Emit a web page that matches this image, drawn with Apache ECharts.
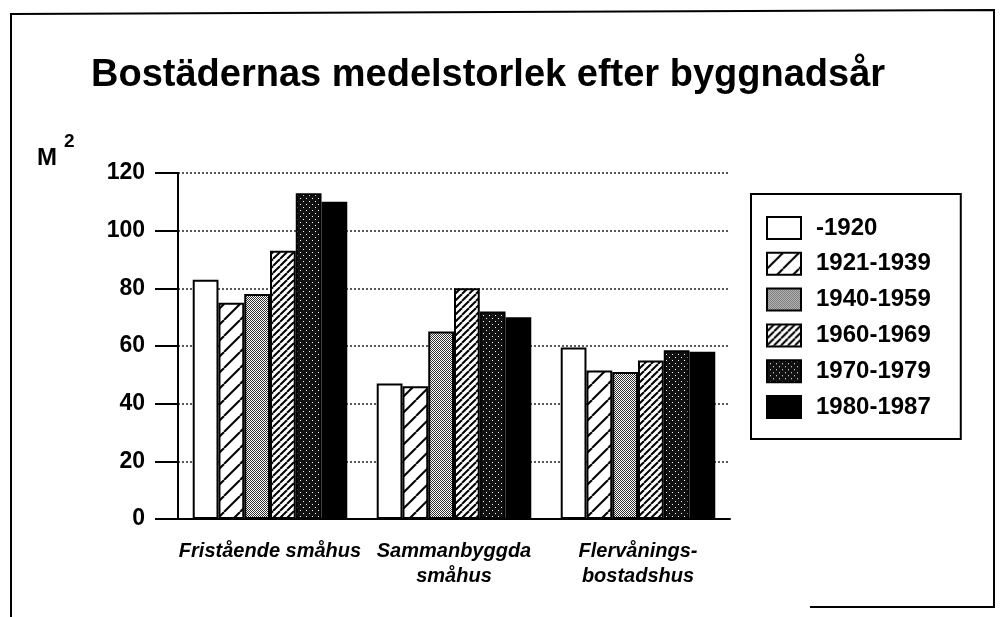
<!DOCTYPE html>
<html>
<head>
<meta charset="utf-8">
<script src="https://cdn.jsdelivr.net/npm/echarts@6/dist/echarts.min.js"></script>
<style>
  html, body { margin: 0; padding: 0; background: #fff; }
  #chart { width: 1001px; height: 617px; }
</style>
</head>
<body>
<div id="chart"></div>
<script>
var categories = ['Fristående småhus', 'Sammanbyggda\nsmåhus', 'Flervånings-\nbostadshus'];
var periods = ['-1920', '1921-1939', '1940-1959', '1960-1969', '1970-1979', '1980-1987'];
var v1920 = [83, 47, 59.5];
var v1921 = [75, 46, 51.5];
var v1940 = [78, 65, 51];
var v1960 = [93, 80, 55];
var v1970 = [113, 72, 58.5];
var v1980 = [110, 70, 58];
var yTicks = { min: 0, max: 120, interval: 20 };

var FONT = '"Liberation Sans", Arial, Helvetica, sans-serif';

// small canvas tiles used as fill patterns (the original is a b/w print)
function tile(size, draw) {
    var c = document.createElement('canvas');
    c.width = size; c.height = size;
    var ctx = c.getContext('2d');
    draw(ctx, size);
    return { image: c, repeat: 'repeat' };
}
function hatch(step, lw) {
    return tile(step, function (ctx, s) {
        ctx.fillStyle = '#fff';
        ctx.fillRect(0, 0, s, s);
        ctx.strokeStyle = '#000';
        ctx.lineWidth = lw;
        for (var o = -s; o <= s; o += s) {
            ctx.beginPath();
            ctx.moveTo(o, s);
            ctx.lineTo(o + s, 0);
            ctx.stroke();
        }
    });
}
function dots(bg, fg, step) {
    return tile(step * 2, function (ctx, s) {
        ctx.fillStyle = bg;
        ctx.fillRect(0, 0, s, s);
        ctx.fillStyle = fg;
        ctx.fillRect(0, 0, 1, 1);
        ctx.fillRect(step, step, 1, 1);
    });
}

var fills = [
    '#fff',
    hatch(16, 2),
    dots('#fff', '#333', 1),
    hatch(7, 2),
    dots('#111', '#fff', 3),
    '#000'
];
var values = [v1920, v1921, v1940, v1960, v1970, v1980];

var myChart = echarts.init(document.getElementById('chart'));

var series = [];
for (var i = 0; i < periods.length; i++) {
    series.push({
        name: periods[i],
        type: 'bar',
        data: values[i],
        barGap: '0%',
        barCategoryGap: '16%',
        itemStyle: {
            color: fills[i],
            borderColor: '#000',
            borderWidth: 2
        }
    });
}

var option = {
    animation: false,
    backgroundColor: '#fff',
    title: {
        text: 'Bostädernas medelstorlek efter byggnadsår',
        left: 86,
        top: 52,
        textStyle: { fontFamily: FONT, fontWeight: 'bold', fontSize: 38, color: '#000' }
    },
    legend: {
        orient: 'vertical',
        left: 751,
        top: 194,
        padding: [22, 30, 20, 15],
        borderColor: '#000',
        borderWidth: 2,
        itemWidth: 34,
        itemHeight: 22,
        itemGap: 11.8,
        icon: 'rect',
        itemStyle: { borderColor: '#000', borderWidth: 2 },
        textStyle: {
            fontFamily: FONT, fontWeight: 'bold', fontSize: 24, color: '#000',
            lineHeight: 22, padding: [0, 0, 0, 10]
        },
        data: periods
    },
    grid: { left: 178, right: 271, top: 173, bottom: 98 },
    xAxis: {
        type: 'category',
        data: categories,
        axisLine: { lineStyle: { color: '#000', width: 2 } },
        axisTick: { show: false },
        axisLabel: {
            interval: 0,
            fontFamily: FONT, fontStyle: 'italic', fontWeight: 'bold',
            fontSize: 20, color: '#000', margin: 20, lineHeight: 25
        }
    },
    yAxis: {
        type: 'value',
        min: yTicks.min,
        max: yTicks.max,
        interval: yTicks.interval,
        axisLine: { show: true, lineStyle: { color: '#000', width: 2 } },
        axisTick: { show: true, inside: false, length: 23, lineStyle: { color: '#000', width: 2 } },
        axisLabel: { fontFamily: FONT, fontWeight: 'bold', fontSize: 23, color: '#000', margin: 33 },
        splitLine: { show: true, lineStyle: { color: '#222', width: 1.5, type: [2, 2] } }
    },
    graphic: [
        {
            type: 'polyline',
            silent: true,
            shape: { points: [[11, 617], [11, 14], [994, 10], [994, 607], [810, 607]] },
            style: { stroke: '#000', lineWidth: 2, fill: null }
        },
        {
            type: 'text', left: 37, top: 146,
            style: { text: 'M', font: 'bold 24px ' + FONT, fill: '#000' }
        },
        {
            type: 'text', left: 64, top: 132,
            style: { text: '2', font: 'bold 19px ' + FONT, fill: '#000' }
        }
    ],
    series: series
};

myChart.setOption(option);
</script>
</body>
</html>
